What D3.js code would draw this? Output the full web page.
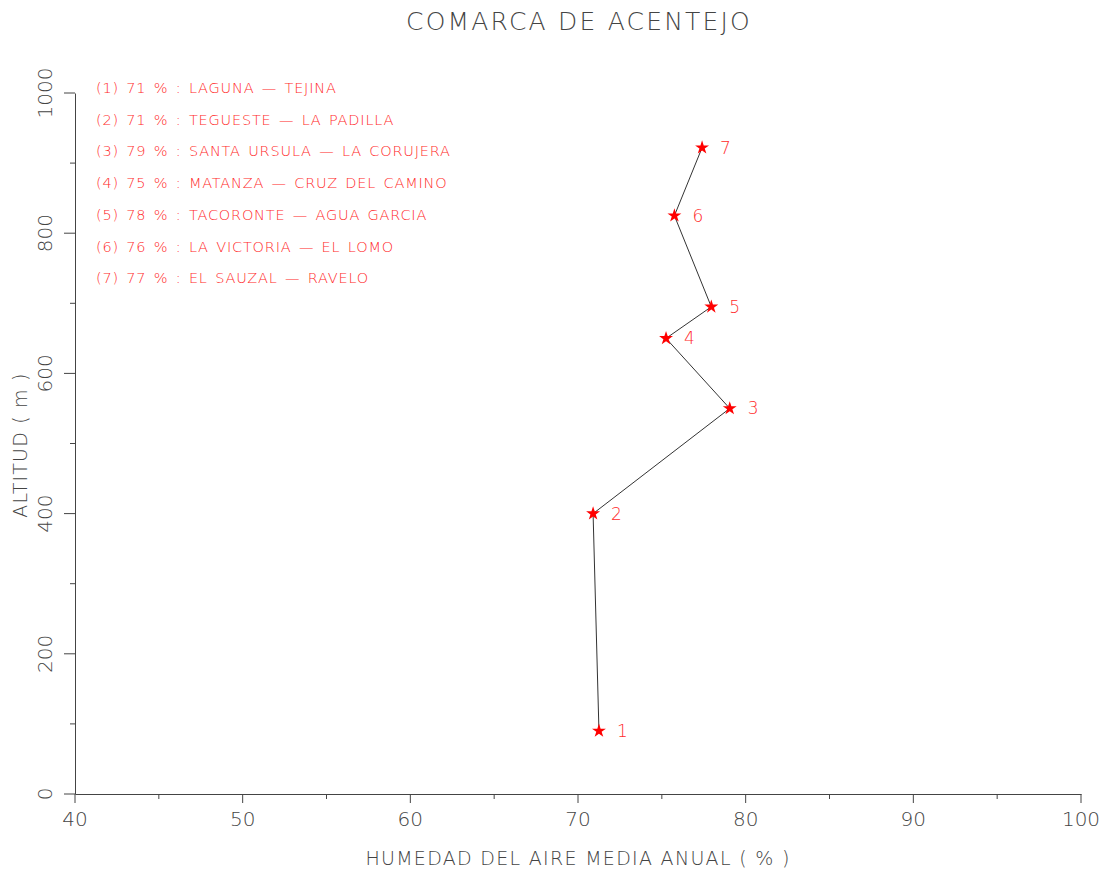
<!DOCTYPE html>
<html>
<head>
<meta charset="utf-8">
<style>
  body { margin: 0; background: #fff; }
  svg text { font-family: "DejaVu Sans", sans-serif; }
</style>
</head>
<body>
<svg id="chart" width="1107" height="872"></svg>
<script src="https://d3js.org/d3.v7.min.js"></script>
<script>
// datos
const estaciones = [1, 2, 3, 4, 5, 6, 7];
const humedad = [71.25, 70.9, 79.05, 75.25, 77.95, 75.75, 77.4];
const altitud = [90, 400, 550, 650, 695, 825, 922];
const leyenda = [
  "(1) 71 % : LAGUNA \u2014 TEJINA",
  "(2) 71 % : TEGUESTE \u2014 LA PADILLA",
  "(3) 79 % : SANTA URSULA \u2014 LA CORUJERA",
  "(4) 75 % : MATANZA \u2014 CRUZ DEL CAMINO",
  "(5) 78 % : TACORONTE \u2014 AGUA GARCIA",
  "(6) 76 % : LA VICTORIA \u2014 EL LOMO",
  "(7) 77 % : EL SAUZAL \u2014 RAVELO"
];
const xTicks = [40, 50, 60, 70, 80, 90, 100];
const yTicks = [0, 200, 400, 600, 800, 1000];

const svg = d3.select("#chart");
const gris = "#444";
const rojo = "#ff2a2a";

const x = d3.scaleLinear().domain([40, 100]).range([75, 1081]);
const y = d3.scaleLinear().domain([0, 1000]).range([794, 93]);

// eje X
const gx = svg.append("g").attr("transform", "translate(0,794)");
gx.call(d3.axisBottom(x).tickValues([]).tickSize(0));
gx.select(".domain").attr("stroke", gris);
gx.selectAll(".mtick").data(d3.range(40, 101, 5)).enter().append("line")
  .attr("x1", d => x(d)).attr("x2", d => x(d))
  .attr("y1", 0).attr("y2", d => d % 10 === 0 ? 9 : 5)
  .attr("stroke", gris);
gx.selectAll(".lab").data(xTicks).enter().append("text")
  .attr("x", d => x(d)).attr("y", 32)
  .attr("text-anchor", "middle")
  .attr("font-size", 20).attr("font-weight", 300)
  .attr("fill", gris).text(d => d);

// eje Y
const gy = svg.append("g").attr("transform", "translate(75,0)");
gy.call(d3.axisLeft(y).tickValues([]).tickSize(0));
gy.select(".domain").attr("stroke", gris);
gy.selectAll(".mtick").data(d3.range(0, 1001, 100)).enter().append("line")
  .attr("y1", d => y(d)).attr("y2", d => y(d))
  .attr("x1", 0).attr("x2", d => d % 200 === 0 ? -11 : -5)
  .attr("stroke", gris);
gy.selectAll(".lab").data(yTicks).enter().append("text")
  .attr("transform", d => `translate(-23,${y(d)}) rotate(-90)`)
  .attr("text-anchor", "middle")
  .attr("font-size", 20).attr("font-weight", 300)
  .attr("fill", gris).text(d => d);

// titulos
svg.append("text").attr("x", 579).attr("y", 30)
  .attr("text-anchor", "middle").attr("font-size", 25).attr("font-weight", 300)
  .attr("letter-spacing", 2.2)
  .attr("fill", gris).text("COMARCA DE ACENTEJO");
svg.append("text").attr("x", 578).attr("y", 865)
  .attr("text-anchor", "middle").attr("font-size", 19).attr("font-weight", 300)
  .attr("letter-spacing", 1.3)
  .attr("fill", gris).text("HUMEDAD DEL AIRE MEDIA ANUAL ( % )");
svg.append("text").attr("transform", "translate(27,445) rotate(-90)")
  .attr("text-anchor", "middle").attr("font-size", 19).attr("font-weight", 300)
  .attr("letter-spacing", 1.2)
  .attr("fill", gris).text("ALTITUD ( m )");

// linea
const puntos = estaciones.map((e, i) => ({ e, h: humedad[i], a: altitud[i] }));
svg.append("path").datum(puntos)
  .attr("fill", "none").attr("stroke", "#333").attr("stroke-width", 1)
  .attr("d", d3.line().x(d => x(d.h)).y(d => y(d.a)));

// estrellas
svg.selectAll(".star").data(puntos).enter().append("path")
  .attr("transform", d => `translate(${x(d.h)},${y(d.a)})`)
  .attr("d", d3.symbol(d3.symbolStar, 60))
  .attr("fill", "red");
svg.selectAll(".num").data(puntos).enter().append("text")
  .attr("x", d => x(d.h) + 18).attr("y", d => y(d.a) + 6)
  .attr("font-size", 17).attr("font-weight", 300)
  .attr("fill", rojo).text(d => d.e);

// leyenda
svg.selectAll(".ley").data(leyenda).enter().append("text")
  .attr("x", 96).attr("y", (d, i) => 93 + i * 31.7)
  .attr("font-size", 14.5).attr("font-weight", 300)
  .attr("letter-spacing", 0.8)
  .attr("word-spacing", 2)
  .attr("fill", rojo).text(d => d);
</script>
</body>
</html>
